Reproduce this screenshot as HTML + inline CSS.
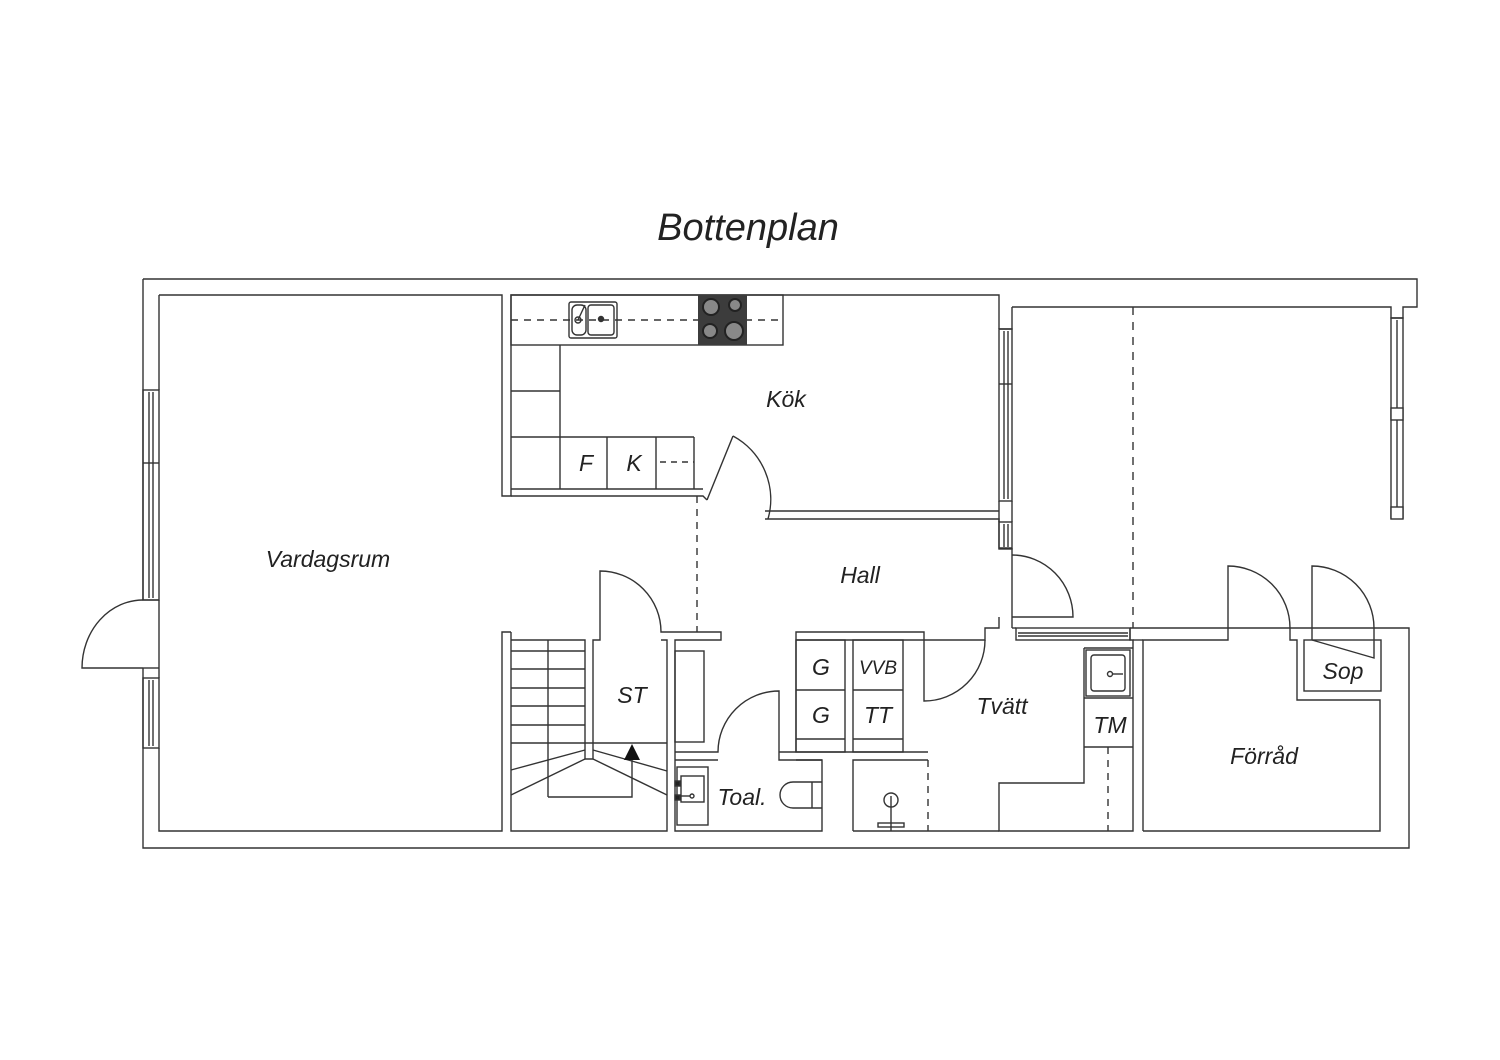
<!DOCTYPE html>
<html><head><meta charset="utf-8"><style>
html,body{margin:0;padding:0;background:#fff;}
svg{display:block;}
text{font-family:"Liberation Sans",sans-serif;font-style:italic;fill:#222;}
</style></head><body>
<svg width="1500" height="1060" viewBox="0 0 1500 1060" xmlns="http://www.w3.org/2000/svg">
<g fill="none" stroke="#333" stroke-width="1.4">
<!-- outer -->
<path d="M143 279 H1417 V307 H1403 V318 H1391 V307 H1012"/>
<path d="M143 279 V600 M143 668 V848 H1409 V628 H1130"/>
<!-- vardagsrum -->
<path d="M159 295 H502 V496 H511 V295 H999 V329"/>
<path d="M159 295 V390 M159 600 V678 M159 748 V831 H502 V632 H511"/>
<!-- left windows -->
<rect x="143" y="390" width="16" height="210"/><line x1="149" y1="392" x2="149" y2="598"/><line x1="153" y1="392" x2="153" y2="598"/><line x1="143" y1="463" x2="159" y2="463"/>
<rect x="143" y="678" width="16" height="70"/><line x1="149" y1="680" x2="149" y2="746"/><line x1="153" y1="680" x2="153" y2="746"/>
<line x1="143" y1="600" x2="159" y2="600"/><line x1="143" y1="668" x2="159" y2="668"/>
<path d="M143 668 H82 A61 68 0 0 1 143 600"/>
<!-- kitchen -->
<path d="M511 489 H703 M511 496 H703 L707 500"/>
<path d="M707 500 L733 436"/>
<path d="M733 436 A72 72 0 0 1 768 519"/>
<path d="M765 511 H999 M765 519 H999 V548 H1012"/>
<rect x="511" y="295" width="272" height="50"/>
<line x1="511" y1="320" x2="783" y2="320" stroke-dasharray="7 6"/>
<rect x="569" y="302" width="48" height="36" rx="2"/>
<rect x="572" y="305" width="14" height="30" rx="5"/><rect x="588" y="305" width="26" height="30" rx="3"/>
<circle cx="578" cy="320" r="3"/><circle cx="601" cy="319" r="2.5" fill="#333"/>
<line x1="578" y1="320" x2="585" y2="305"/>
<line x1="560" y1="345" x2="560" y2="489"/>
<line x1="511" y1="391" x2="560" y2="391"/><line x1="511" y1="437" x2="694" y2="437"/>
<line x1="694" y1="437" x2="694" y2="489"/><line x1="607" y1="437" x2="607" y2="489"/><line x1="656" y1="437" x2="656" y2="489"/>
<line x1="660" y1="462" x2="694" y2="462" stroke-dasharray="6 5"/>
<line x1="697" y1="496" x2="697" y2="632" stroke-dasharray="7 6"/>
<!-- kitchen right windows -->
<path d="M999 329 H1012 V307"/>
<rect x="999" y="329" width="13" height="172"/><line x1="1004" y1="331" x2="1004" y2="499"/><line x1="1008" y1="331" x2="1008" y2="499"/><line x1="999" y1="384" x2="1012" y2="384"/>
<rect x="999" y="522" width="13" height="27"/><line x1="1004" y1="524" x2="1004" y2="547"/><line x1="1008" y1="524" x2="1008" y2="547"/>
<line x1="999" y1="501" x2="999" y2="522"/><line x1="1012" y1="501" x2="1012" y2="522"/>
<path d="M1012 548 V628"/>
<path d="M1012 617 H1073 A61 62 0 0 0 1012 555"/>
<line x1="1133" y1="307" x2="1133" y2="628" stroke-dasharray="8 7"/>
<!-- right side windows -->
<rect x="1391" y="318" width="12" height="200"/><line x1="1397" y1="320" x2="1397" y2="516"/>
<rect x="1391" y="408" width="12" height="12" fill="#fff"/>
<rect x="1391" y="507" width="12" height="12" fill="#fff"/>
<!-- tvatt wall with window -->
<path d="M999 617 V628 H985 V640 H924"/>
<rect x="1016" y="628" width="114" height="12"/><line x1="1018" y1="633" x2="1128" y2="633"/><line x1="1018" y1="636" x2="1128" y2="636"/>
<path d="M924 640 V701 A61 61 0 0 0 985 640"/>
<path d="M1012 628 H1016"/>
<!-- Forrad -->
<path d="M1130 628 V640 H1133 V831 H1107 M1143 831 V640 H1228 V566 A62 62 0 0 1 1290 628 V640 H1297 V700 H1380 V831 H1143"/>
<path d="M1133 640 H1143"/>
<rect x="1304" y="640" width="77" height="51"/>
<path d="M1312 640 V566 A62 62 0 0 1 1374 628 V658 L1312 640"/>
<!-- tvatt right cabinets -->
<path d="M1084 648 H1133 M1084 648 V783 H999 V831 H1107"/>
<rect x="1086" y="650" width="44" height="46"/><rect x="1091" y="655" width="34" height="36" rx="3"/>
<circle cx="1110" cy="674" r="2.5"/><line x1="1112" y1="674" x2="1123" y2="674"/>
<line x1="1084" y1="698" x2="1133" y2="698"/><line x1="1084" y1="747" x2="1133" y2="747"/>
<line x1="1108" y1="747" x2="1108" y2="831" stroke-dasharray="7 6"/>
<!-- stairs -->
<path d="M511 632 V831 H667 V640 H661"/>
<path d="M511 640 H585 V759 H593 V640 H600 V571 A61 61 0 0 1 661 632 H721 V640 H675 V831 H822 V760 H779 V691 A61 61 0 0 0 718 752 H675"/>
<line x1="548" y1="640" x2="548" y2="797"/>
<line x1="511" y1="651" x2="585" y2="651"/><line x1="511" y1="669" x2="585" y2="669"/><line x1="511" y1="688" x2="585" y2="688"/><line x1="511" y1="706" x2="585" y2="706"/><line x1="511" y1="725" x2="585" y2="725"/><line x1="511" y1="743" x2="667" y2="743"/>
<line x1="585" y1="750" x2="511" y2="770"/><line x1="585" y1="759" x2="511" y2="795"/>
<line x1="593" y1="750" x2="667" y2="771"/><line x1="593" y1="759" x2="667" y2="795"/>
<path d="M632 760 V797 H548"/>
<!-- closet -->
<rect x="675" y="651" width="29" height="91"/>
<!-- toal -->
<path d="M675 760 H718 M779 752 H928 M822 760 H796"/>
<rect x="677" y="767" width="31" height="58"/><rect x="681" y="776" width="23" height="26"/>
<rect x="675" y="781" width="5" height="5" fill="#222"/><rect x="675" y="795" width="5" height="5" fill="#222"/>
<circle cx="692" cy="796" r="2"/><line x1="680" y1="796" x2="690" y2="796"/>
<path d="M822 782 H793 A13 13 0 0 0 793 808 H822 M812 782 V808"/>
<!-- G cabinets -->
<path d="M796 752 V632 H924 V640 M796 640 H924"/>
<rect x="796" y="640" width="49" height="112"/><rect x="853" y="640" width="50" height="112"/>
<line x1="796" y1="690" x2="845" y2="690"/><line x1="853" y1="690" x2="903" y2="690"/>
<line x1="796" y1="739" x2="845" y2="739"/><line x1="853" y1="739" x2="903" y2="739"/>
<path d="M853 831 V760 H928"/><line x1="928" y1="760" x2="928" y2="831" stroke-dasharray="7 6"/>
<line x1="853" y1="831" x2="999" y2="831"/>
<circle cx="891" cy="800" r="7"/><line x1="891" y1="796" x2="891" y2="831"/><rect x="878" y="823" width="26" height="4"/>
</g>
<rect x="698" y="295" width="49" height="50" fill="#3c3c3c"/>
<g fill="#888" stroke="#222" stroke-width="2">
<circle cx="711" cy="307" r="8"/><circle cx="735" cy="305" r="6"/><circle cx="710" cy="331" r="7"/><circle cx="734" cy="331" r="9"/>
</g>
<polygon points="632,744 624,760 640,760" fill="#111"/>
<text x="748" y="240" font-size="38" text-anchor="middle">Bottenplan</text>
<text x="786" y="407" font-size="23" text-anchor="middle">Kök</text>
<text x="586" y="471" font-size="23" text-anchor="middle">F</text>
<text x="634" y="471" font-size="23" text-anchor="middle">K</text>
<text x="328" y="567" font-size="23" text-anchor="middle">Vardagsrum</text>
<text x="860" y="583" font-size="23" text-anchor="middle">Hall</text>
<text x="632" y="703" font-size="23" text-anchor="middle">ST</text>
<text x="821" y="675" font-size="23" text-anchor="middle">G</text>
<text x="821" y="723" font-size="23" text-anchor="middle">G</text>
<text x="878" y="674" font-size="19" text-anchor="middle">VVB</text>
<text x="878" y="723" font-size="23" text-anchor="middle">TT</text>
<text x="1002" y="714" font-size="23" text-anchor="middle">Tvätt</text>
<text x="1110" y="733" font-size="23" text-anchor="middle">TM</text>
<text x="742" y="805" font-size="23" text-anchor="middle">Toal.</text>
<text x="1264" y="764" font-size="23" text-anchor="middle">Förråd</text>
<text x="1343" y="679" font-size="23" text-anchor="middle">Sop</text>
</svg>
</body></html>
